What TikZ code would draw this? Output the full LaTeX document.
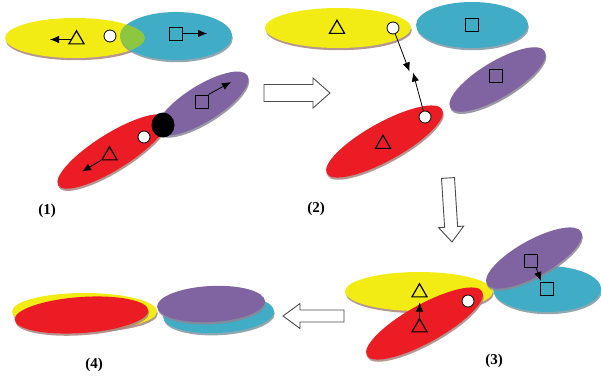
\documentclass[tikz,border=0pt]{standalone}
\usepackage{fontspec}
\setmainfont{Liberation Serif}
\usetikzlibrary{shapes.geometric,shadows,arrows.meta}

\definecolor{yel}{HTML}{F2EB14}
\definecolor{cya}{HTML}{41ACC6}
\definecolor{pur}{HTML}{8064A2}
\definecolor{redc}{HTML}{EC1C24}
\definecolor{grn}{HTML}{8DC641}
\definecolor{warmshade}{HTML}{A8847C}
\definecolor{coolshade}{HTML}{7E98A2}
\definecolor{greyshade}{HTML}{8A8796}

\tikzset{
  blob/.style={ellipse, inner sep=0pt, outer sep=0pt},
  warm/.style={drop shadow={shadow xshift=0.8pt, shadow yshift=-2.2pt, fill=warmshade, opacity=0.85}},
  cool/.style={drop shadow={shadow xshift=0.8pt, shadow yshift=-2.2pt, fill=coolshade, opacity=0.85}},
  grey/.style={drop shadow={shadow xshift=0.8pt, shadow yshift=-2.2pt, fill=greyshade, opacity=0.85}},
  yblob/.style={blob, fill=yel, warm},
  rblob/.style={blob, fill=redc, warm},
  cblob/.style={blob, fill=cya, cool},
  pblob/.style={blob, fill=pur, grey},
  tri/.style={regular polygon, regular polygon sides=3, draw, line width=1.2pt,
              minimum size=17.5pt, inner sep=0pt},
  sq/.style={rectangle, draw, line width=0.9pt, minimum size=13pt, inner sep=0pt},
  dot/.style={circle, draw, fill=white, line width=0.8pt, minimum size=12pt, inner sep=0pt},
  link/.style={-{Latex[length=9pt,width=7.5pt]}, line width=0.8pt},
  blockarrow/.style={draw=black!70, fill=white, line width=0.9pt, line join=miter},
  lbl/.style={font=\bfseries\fontsize{15}{17}\selectfont, inner sep=0pt}
}

\begin{document}
\begin{tikzpicture}[x=1pt, y=-1pt]
\useasboundingbox (0,0) rectangle (601,381);

% ---------- stage (1) ----------
\node[yblob, minimum width=140pt, minimum height=40pt] (y1) at (75,38) {};
\node[cblob, minimum width=112pt, minimum height=48pt] (c1) at (176,36) {};
\begin{scope}
  \clip (75,38) ellipse [x radius=70pt, y radius=20pt];
  \fill[grn] (176,36) ellipse [x radius=56pt, y radius=24pt];
\end{scope}
\node[pblob, minimum width=106pt, minimum height=36pt, rotate=32] (p1) at (202.5,103.5) {};
\node[rblob, minimum width=128pt, minimum height=36pt, rotate=32] (r1) at (112.5,151.5) {};
\node[ellipse, fill=black, minimum width=23pt, minimum height=25pt, inner sep=0pt] (k1) at (163,125) {};

\node[tri] (ty1) at (76.5,39.5) {};
\coordinate (ay1) at (50,39.5);
\draw[link] (ty1.180) -- (ay1);
\node[dot] (d1) at (110,36) {};
\node[sq] (sc1) at (175.5,33.5) {};
\coordinate (ac1) at (207,33.5);
\draw[link] (sc1.east) -- (ac1);

\node[tri] (tr1) at (109.5,155.5) {};
\coordinate (ar1) at (82,171.5);
\draw[link] (tr1.210) -- (ar1);
\node[dot] (d2) at (144,137) {};
\node[sq] (sp1) at (201.5,101.5) {};
\coordinate (ap1) at (231,82);
\draw[link] (sp1.north east) -- (ap1);

\node[lbl] (l1) at (47,211) {(1)};

% ---------- arrow (1) -> (2) ----------
\draw[blockarrow] (264,84.5) -- (313,84.5) -- (313,78) -- (330,93)
  -- (313,108) -- (313,101.5) -- (264,101.5) -- cycle;

% ---------- stage (2) ----------
\node[yblob, minimum width=146pt, minimum height=40pt] (y2) at (338,28) {};
\node[cblob, minimum width=112pt, minimum height=46pt] (c2) at (472,25) {};
\node[pblob, minimum width=110pt, minimum height=36pt, rotate=31] (p2) at (497.5,79.5) {};
\node[rblob, minimum width=132pt, minimum height=38pt, rotate=29] (r2) at (384.5,141.5) {};

\node[tri] (ty2) at (337,29) {};
\node[sq] (sc2) at (472,25) {};
\node[sq] (sp2) at (496,76) {};
\node[tri] (tr2) at (383,144) {};
\node[dot] (d3) at (393,28) {};
\node[dot] (d4) at (425,117) {};
\coordinate (m1) at (409.5,71.5);
\coordinate (m2) at (413,72.5);
\draw[link] (d3) -- (m1);
\draw[link] (d4) -- (m2);

\node[lbl] (l2) at (316,209) {(2)};

% ---------- arrow (2) -> (3) ----------
\draw[blockarrow] (441.5,178.4) -- (454.5,177.6) -- (457.6,226.5) -- (463.6,226.1)
  -- (452,242) -- (438.6,227.7) -- (444.6,227.3) -- cycle;

% ---------- stage (3) ----------
\node[yblob, minimum width=148pt, minimum height=39pt] (y3) at (419,291.5) {};
\node[cblob, minimum width=108pt, minimum height=46pt] (c3) at (547,289) {};
\node[pblob, minimum width=108pt, minimum height=36pt, rotate=29] (p3) at (534,258) {};
\node[rblob, minimum width=132pt, minimum height=38pt, rotate=29] (r3) at (424.5,323.5) {};

\node[tri] (ty3) at (419.5,292.5) {};
\node[tri] (tr3) at (419.5,327.5) {};
\coordinate (m3) at (419.5,302.5);
\draw[link] (tr3.corner 1) -- (m3);
\node[dot] (d5) at (468,301) {};
\node[sq] (sp3) at (531,260.5) {};
\node[sq] (sc3) at (547,288.5) {};
\coordinate (m4) at (541,281);
\draw[link] ([xshift=-2pt]sp3.south east) -- (m4);

\node[lbl] (l3) at (494,361) {(3)};

% ---------- arrow (3) -> (4) ----------
\draw[blockarrow] (344,310) -- (300,310) -- (300,303.5) -- (283,316)
  -- (300,328.5) -- (300,322) -- (344,322) -- cycle;

% ---------- stage (4) ----------
\node[yblob, minimum width=145pt, minimum height=37pt] (y4) at (84.5,311.5) {};
\node[rblob, minimum width=134pt, minimum height=36pt, rotate=4] (r4) at (81.5,315) {};
\node[cblob, minimum width=111pt, minimum height=38pt, rotate=3] (c4) at (218.5,314) {};
\node[pblob, minimum width=108pt, minimum height=36pt, rotate=3] (p4) at (211,304) {};

\node[lbl] (l4) at (94,365) {(4)};
\end{tikzpicture}
\end{document}
